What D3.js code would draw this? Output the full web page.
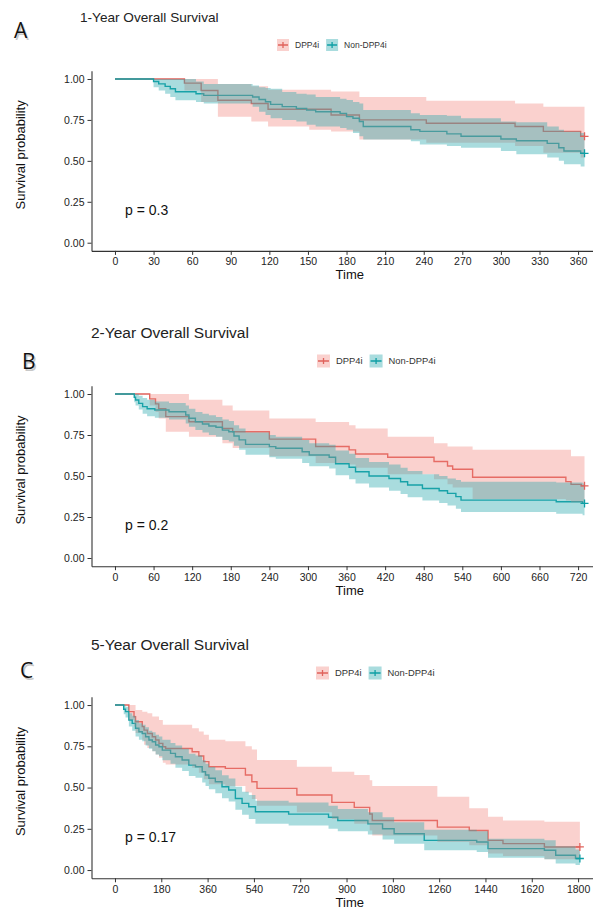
<!DOCTYPE html>
<html>
<head>
<meta charset="utf-8">
<script src="https://cdn.jsdelivr.net/npm/d3@7"></script>
<style>
  body { margin: 0; background: #fff; }
  svg { display: block; }
</style>
</head>
<body>
<div id="chart"></div>
<script>
// Kaplan-Meier step data (time in days, survival, 95% CI)
const groups = ["DPP4i", "Non-DPP4i"];
const titles = ["1-Year Overall Survival", "2-Year Overall Survival", "5-Year Overall Survival"];
const letters = ["A", "B", "C"];
const pLabels = ["p = 0.3", "p = 0.2", "p = 0.17"];
const xMaxes = [365, 730, 1825];
const xTickSteps = [30, 60, 180];
const yTicks = [0, 0.25, 0.5, 0.75, 1];

// Panel A
const dppA_time = [0, 54, 67, 80, 106, 119, 151, 168, 190, 242, 311, 333, 362, 365];
const dppA_surv = [1, 0.975, 0.93, 0.87, 0.85, 0.815, 0.815, 0.78, 0.75, 0.73, 0.71, 0.68, 0.65, 0.65];
const dppA_lo = [1, 0.93, 0.86, 0.77, 0.74, 0.71, 0.69, 0.68, 0.63, 0.61, 0.59, 0.55, 0.52, 0.52];
const dppA_hi = [1, 1, 1, 0.97, 0.955, 0.935, 0.935, 0.923, 0.89, 0.867, 0.85, 0.83, 0.83, 0.83];

const nonA_time = [0, 30, 34, 39, 43, 47, 63, 69, 107, 112, 117, 121, 130, 141, 149, 156, 175, 180, 185, 190, 193, 230, 237, 258, 269, 300, 312, 336, 345, 349, 362, 365];
const nonA_surv = [1, 0.985, 0.97, 0.955, 0.94, 0.922, 0.91, 0.90, 0.89, 0.875, 0.861, 0.845, 0.831, 0.82, 0.81, 0.80, 0.79, 0.77, 0.76, 0.74, 0.71, 0.69, 0.68, 0.665, 0.65, 0.633, 0.623, 0.607, 0.58, 0.56, 0.546, 0.546];
const nonA_lo = [1, 0.95, 0.93, 0.91, 0.89, 0.87, 0.86, 0.85, 0.83, 0.80, 0.78, 0.76, 0.75, 0.74, 0.72, 0.71, 0.70, 0.69, 0.67, 0.65, 0.63, 0.62, 0.60, 0.59, 0.58, 0.56, 0.54, 0.52, 0.50, 0.48, 0.465, 0.465];
const nonA_hi = [1, 1, 1, 1, 1, 1, 0.985, 0.97, 0.96, 0.95, 0.945, 0.94, 0.92, 0.91, 0.905, 0.89, 0.88, 0.872, 0.86, 0.85, 0.81, 0.79, 0.78, 0.775, 0.76, 0.74, 0.735, 0.71, 0.69, 0.68, 0.67, 0.67];

// Panel B
const dppB_time = [0, 54, 63, 68, 79, 115, 167, 183, 240, 312, 364, 374, 424, 496, 517, 525, 556, 701, 709, 725, 730];
const dppB_surv = [1, 0.97, 0.94, 0.91, 0.862, 0.831, 0.79, 0.77, 0.725, 0.68, 0.659, 0.634, 0.614, 0.588, 0.561, 0.541, 0.492, 0.466, 0.449, 0.44, 0.44];
const dppB_lo = [1, 0.93, 0.89, 0.85, 0.77, 0.74, 0.70, 0.67, 0.62, 0.58, 0.57, 0.55, 0.51, 0.48, 0.45, 0.43, 0.36, 0.35, 0.34, 0.34, 0.34];
const dppB_hi = [1, 1, 1, 1, 1, 0.965, 0.93, 0.90, 0.85, 0.83, 0.81, 0.79, 0.74, 0.70, 0.68, 0.68, 0.66, 0.66, 0.62, 0.62, 0.62];

const nonB_time = [0, 30, 32, 37, 43, 50, 62, 84, 110, 115, 125, 136, 146, 157, 167, 177, 185, 193, 203, 240, 250, 291, 302, 333, 343, 364, 374, 395, 426, 444, 455, 478, 504, 517, 530, 538, 686, 727, 730];
const nonB_surv = [1, 0.98, 0.963, 0.943, 0.923, 0.91, 0.902, 0.892, 0.872, 0.852, 0.831, 0.817, 0.805, 0.797, 0.78, 0.77, 0.744, 0.72, 0.693, 0.679, 0.669, 0.648, 0.628, 0.614, 0.575, 0.553, 0.526, 0.50, 0.485, 0.465, 0.445, 0.424, 0.41, 0.394, 0.374, 0.353, 0.343, 0.333, 0.333];
const nonB_lo = [1, 0.95, 0.93, 0.905, 0.88, 0.865, 0.855, 0.845, 0.82, 0.80, 0.78, 0.765, 0.75, 0.74, 0.72, 0.71, 0.685, 0.66, 0.63, 0.615, 0.605, 0.58, 0.56, 0.545, 0.505, 0.48, 0.455, 0.43, 0.41, 0.39, 0.37, 0.35, 0.335, 0.32, 0.30, 0.28, 0.27, 0.26, 0.26];
const nonB_hi = [1, 1, 1, 0.99, 0.975, 0.965, 0.955, 0.945, 0.93, 0.91, 0.89, 0.88, 0.87, 0.86, 0.845, 0.835, 0.81, 0.79, 0.765, 0.75, 0.74, 0.72, 0.70, 0.69, 0.655, 0.635, 0.61, 0.585, 0.57, 0.55, 0.53, 0.51, 0.50, 0.485, 0.475, 0.465, 0.46, 0.455, 0.455];

// Panel C
const dppC_time = [0, 54, 74, 80, 106, 113, 126, 145, 158, 171, 186, 197, 300, 326, 345, 365, 429, 507, 532, 552, 707, 843, 930, 990, 1000, 1253, 1377, 1450, 1508, 1669, 1807];
const dppC_surv = [1, 0.96, 0.929, 0.899, 0.869, 0.848, 0.828, 0.808, 0.788, 0.768, 0.747, 0.737, 0.717, 0.691, 0.657, 0.626, 0.616, 0.576, 0.535, 0.495, 0.455, 0.41, 0.38, 0.34, 0.30, 0.26, 0.24, 0.18, 0.16, 0.14, 0.14];
const dppC_lo = [1, 0.91, 0.87, 0.83, 0.79, 0.76, 0.74, 0.72, 0.70, 0.68, 0.65, 0.64, 0.62, 0.59, 0.55, 0.52, 0.51, 0.47, 0.43, 0.39, 0.35, 0.31, 0.28, 0.24, 0.21, 0.17, 0.15, 0.10, 0.085, 0.065, 0.06];
const dppC_hi = [1, 1, 1, 0.97, 0.96, 0.96, 0.95, 0.93, 0.93, 0.91, 0.88, 0.88, 0.86, 0.84, 0.82, 0.79, 0.78, 0.75, 0.73, 0.667, 0.626, 0.596, 0.576, 0.545, 0.51, 0.444, 0.374, 0.323, 0.30, 0.293, 0.293];

const nonC_time = [0, 34, 41, 54, 67, 80, 93, 106, 119, 132, 145, 158, 171, 184, 216, 235, 261, 287, 313, 339, 352, 365, 390, 416, 442, 468, 494, 520, 546, 675, 830, 866, 983, 1040, 1085, 1202, 1406, 1450, 1669, 1713, 1790, 1807];
const nonC_surv = [1, 0.975, 0.96, 0.909, 0.889, 0.859, 0.838, 0.828, 0.808, 0.788, 0.778, 0.758, 0.747, 0.727, 0.707, 0.687, 0.667, 0.636, 0.626, 0.596, 0.576, 0.556, 0.535, 0.505, 0.485, 0.434, 0.404, 0.384, 0.353, 0.339, 0.32, 0.30, 0.28, 0.25, 0.22, 0.18, 0.17, 0.13, 0.12, 0.09, 0.07, 0.07];
const nonC_lo = [1, 0.945, 0.925, 0.87, 0.845, 0.81, 0.79, 0.78, 0.755, 0.735, 0.72, 0.70, 0.69, 0.665, 0.645, 0.62, 0.60, 0.57, 0.56, 0.53, 0.51, 0.49, 0.465, 0.435, 0.415, 0.365, 0.335, 0.31, 0.28, 0.27, 0.25, 0.235, 0.215, 0.185, 0.16, 0.12, 0.11, 0.075, 0.065, 0.04, 0.03, 0.03];
const nonC_hi = [1, 1, 0.99, 0.95, 0.935, 0.91, 0.89, 0.88, 0.865, 0.845, 0.835, 0.82, 0.81, 0.79, 0.77, 0.755, 0.735, 0.705, 0.695, 0.665, 0.645, 0.625, 0.605, 0.575, 0.555, 0.505, 0.475, 0.455, 0.42, 0.41, 0.39, 0.37, 0.35, 0.32, 0.29, 0.245, 0.235, 0.19, 0.18, 0.145, 0.125, 0.125];

const panelCurves = [
  [[dppA_time, dppA_surv, dppA_lo, dppA_hi], [nonA_time, nonA_surv, nonA_lo, nonA_hi]],
  [[dppB_time, dppB_surv, dppB_lo, dppB_hi], [nonB_time, nonB_surv, nonB_lo, nonB_hi]],
  [[dppC_time, dppC_surv, dppC_lo, dppC_hi], [nonC_time, nonC_surv, nonC_lo, nonC_hi]]
];

const width = 593;
const height = 909;
const font = "'Liberation Sans', Arial, sans-serif";
const lineColors = ["#E0625B", "#0E9FA5"];
const fillColors = ["#F27F77", "#27A7AC"];
const fillAlpha = [0.36, 0.4];

// page positions of each panel
const layout = [
  { top: 70.8, bottom: 250.9, titleX: 80, titleY: 22, titleSize: 13.6, letterX: 14, letterY: 38, legendX: 277, legendY: 45, legendSize: 8.5, box: 12 },
  { top: 385.8, bottom: 566.2, titleX: 91, titleY: 337.5, titleSize: 15.5, letterX: 22, letterY: 369, legendX: 317, legendY: 361, legendSize: 9.4, box: 13 },
  { top: 696.8, bottom: 878.3, titleX: 91, titleY: 650, titleSize: 15.5, letterX: 20, letterY: 678, legendX: 316, legendY: 673, legendSize: 9.4, box: 13 }
];
const plotLeft = 91.5;
const plotRight = 608;

const svg = d3.select("#chart")
  .append("svg")
  .attr("width", width)
  .attr("height", height)
  .attr("font-family", font);

layout.forEach((L, i) => drawPanel(i, L));

function drawPanel(i, L) {
  const xMax = xMaxes[i];
  const x = d3.scaleLinear()
    .domain([-xMax * 0.05, xMax * 1.05])
    .range([plotLeft, plotRight]);
  const y = d3.scaleLinear()
    .domain([-0.05, 1.05])
    .range([L.bottom, L.top]);

  const g = svg.append("g");

  // panel letter with a faint shadow
  g.append("text")
    .attr("x", L.letterX + 1.5).attr("y", L.letterY + 1.5)
    .attr("font-family", "'Open Sans', sans-serif")
    .attr("font-size", 21).attr("fill", "#c8c8c8")
    .text(letters[i]);
  g.append("text")
    .attr("x", L.letterX).attr("y", L.letterY)
    .attr("font-family", "'Open Sans', sans-serif")
    .attr("font-size", 21).attr("fill", "#111")
    .text(letters[i]);

  g.append("text")
    .attr("x", L.titleX).attr("y", L.titleY)
    .attr("font-size", L.titleSize).attr("fill", "#222")
    .text(titles[i]);

  // legend
  const leg = g.append("g")
    .attr("transform", `translate(${L.legendX},${L.legendY})`);
  let lx = 0;
  groups.forEach((name, k) => {
    const b = L.box;
    leg.append("rect")
      .attr("x", lx).attr("y", -b / 2)
      .attr("width", b).attr("height", b)
      .attr("fill", fillColors[k]).attr("fill-opacity", fillAlpha[k]);
    leg.append("path")
      .attr("d", `M${lx + 1},0H${lx + b - 1}M${lx + b / 2},-3V3`)
      .attr("stroke", lineColors[k]).attr("stroke-width", 1.3).attr("fill", "none");
    const t = leg.append("text")
      .attr("x", lx + b + 6).attr("y", 0).attr("dy", "0.35em")
      .attr("font-size", L.legendSize).attr("fill", "#333")
      .text(name);
    lx += b + 6 + t.node().getComputedTextLength() + 7;
  });

  // curves
  const clipId = "clip" + i;
  g.append("clipPath").attr("id", clipId)
    .append("rect")
    .attr("x", plotLeft).attr("y", L.top)
    .attr("width", plotRight - plotLeft).attr("height", L.bottom - L.top);

  const curves = panelCurves[i].map(c => c[0].map((t, k) => ({ t: t, s: c[1][k], lo: c[2][k], hi: c[3][k] })));

  const line = d3.line()
    .x(d => x(d.t)).y(d => y(d.s))
    .curve(d3.curveStepAfter);
  const band = d3.area()
    .x(d => x(d.t)).y0(d => y(d.lo)).y1(d => y(d.hi))
    .curve(d3.curveStepAfter);

  const plot = g.append("g").attr("clip-path", `url(#${clipId})`);

  curves.forEach((c, k) => {
    plot.append("path")
      .attr("d", line(c))
      .attr("fill", "none")
      .attr("stroke", lineColors[k])
      .attr("stroke-width", 1.4);
  });
  curves.forEach((c, k) => {
    plot.append("path")
      .attr("d", band(c))
      .attr("fill", fillColors[k])
      .attr("fill-opacity", fillAlpha[k]);
  });
  curves.forEach((c, k) => {
    const last = c[c.length - 1];
    const cx = x(last.t), cy = y(last.s);
    plot.append("path")
      .attr("d", `M${cx - 4},${cy}H${cx + 4}M${cx},${cy - 4}V${cy + 4}`)
      .attr("stroke", lineColors[k]).attr("stroke-width", 1.3);
  });

  // p value
  g.append("text")
    .attr("x", 125).attr("y", y(0.2)).attr("dy", "0.35em")
    .attr("font-size", 14).attr("fill", "#111")
    .text(pLabels[i]);

  // axes
  const xAxis = d3.axisBottom(x)
    .tickValues(d3.range(0, xMax, xTickSteps[i]))
    .tickFormat(d3.format("d"))
    .tickSize(4).tickSizeOuter(0).tickPadding(3);
  const yAxis = d3.axisLeft(y)
    .tickValues(yTicks).tickFormat(d3.format(".2f"))
    .tickSize(4).tickSizeOuter(0).tickPadding(3);

  const gx = g.append("g")
    .attr("transform", `translate(0,${L.bottom})`)
    .call(xAxis);
  const gy = g.append("g")
    .attr("transform", `translate(${plotLeft},0)`)
    .call(yAxis);

  [gx, gy].forEach(a => {
    a.attr("font-family", font).attr("font-size", 10.5);
    a.select(".domain").attr("stroke", "#333").attr("stroke-width", 1.1);
    a.selectAll(".tick line").attr("stroke", "#333");
    a.selectAll(".tick text").attr("fill", "#222");
  });

  g.append("text")
    .attr("x", (plotLeft + plotRight) / 2).attr("y", L.bottom + 28.5)
    .attr("text-anchor", "middle")
    .attr("font-size", 13).attr("fill", "#111")
    .text("Time");

  g.append("text")
    .attr("transform", `translate(25,${(y(0) + y(1)) / 2 - 6}) rotate(-90)`)
    .attr("text-anchor", "middle")
    .attr("font-size", 13).attr("fill", "#111")
    .text("Survival probability");
}
</script>
</body>
</html>
